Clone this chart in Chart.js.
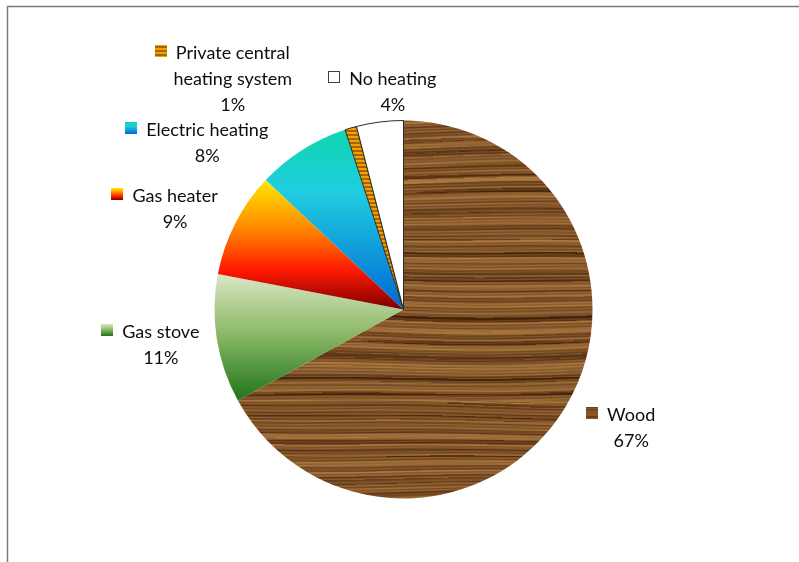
<!DOCTYPE html>
<html>
<head>
<meta charset="utf-8">
<script src="https://cdn.jsdelivr.net/npm/chart.js@4.4.1/dist/chart.umd.min.js"></script>
<style>
  html, body { margin: 0; padding: 0; background: #fff; }
  canvas { display: block; }
</style>
</head>
<body>
<canvas id="heating" width="799" height="562"></canvas>
<script>
const categories = ['Wood', 'Gas stove', 'Gas heater', 'Electric heating', 'Private central heating system', 'No heating'];
const shares = [67, 11, 9, 8, 1, 4];

// vertical gradients (top -> bottom) for the plain slices; null = special fill
const sliceStops = [
  null,
  [[0, '#dbe6c6'], [0.45, '#8fbb6a'], [1, '#1f7419']],
  [[0, '#ffe600'], [0.35, '#ff9000'], [0.7, '#ff1800'], [1, '#7a0000']],
  [[0, '#0fd6ae'], [0.35, '#20cde0'], [1, '#0068d4']],
  null,
  null,
];

// label placement, relative to the middle of each slice's outer edge
const labelOffsets = [[65, 15], [-56, -1], [-60, -22], [-95, -14], [-118, -69], [13, -37]];
const LINE_H = 26;

let woodCache = null;
function woodPattern(ctx) {
  if (woodCache) return woodCache;
  const W = 800, H = 400;
  const c = document.createElement('canvas');
  c.width = W; c.height = H;
  const g = c.getContext('2d');
  const img = g.createImageData(W, H);
  const dark = [70, 34, 10], light = [190, 136, 74];
  for (let y = 0; y < H; y++) {
    for (let x = 0; x < W; x++) {
      const warp = 2.4 * Math.sin(x * 0.0079 + y * 0.021) + 1.4 * Math.sin(x * 0.019 - y * 0.013);
      const yy = y + warp;
      let t = 0.52 + 0.11 * Math.sin(yy * 1.93)
        + 0.12 * Math.sin(yy * 0.73 + 1.0)
        + 0.1 * Math.sin((y + warp * 1.5) * 0.31 + 2.0)
        + 0.05 * Math.sin(x * 0.05 + y * 2.3);
      if (Math.sin(yy * 0.41 + 0.8) * Math.sin(y * 0.093 + 0.4) > 0.55) t -= 0.28;
      if (Math.sin(yy * 0.17 + 2.1) > 0.93) t += 0.15;
      t = Math.max(0, Math.min(1, t));
      const p = (y * W + x) * 4;
      img.data[p] = dark[0] + (light[0] - dark[0]) * t;
      img.data[p + 1] = dark[1] + (light[1] - dark[1]) * t;
      img.data[p + 2] = dark[2] + (light[2] - dark[2]) * t;
      img.data[p + 3] = 255;
    }
  }
  g.putImageData(img, 0, 0);
  woodCache = ctx.createPattern(c, 'repeat');
  return woodCache;
}

let stripeCache = null;
function stripePattern(ctx) {
  if (stripeCache) return stripeCache;
  const c = document.createElement('canvas');
  c.width = 4; c.height = 4;
  const g = c.getContext('2d');
  g.fillStyle = '#f0a200'; g.fillRect(0, 0, 4, 2);
  g.fillStyle = '#a86400'; g.fillRect(0, 2, 4, 2);
  stripeCache = ctx.createPattern(c, 'repeat');
  return stripeCache;
}

function arcYRange(el) {
  const { x, y, startAngle, endAngle, outerRadius: r } = el;
  const ys = [y, y + Math.sin(startAngle) * r, y + Math.sin(endAngle) * r];
  for (let a = -Math.PI / 2; a <= 2.5 * Math.PI; a += Math.PI) {
    if (a > startAngle && a < endAngle) ys.push(y + Math.sin(a) * r);
  }
  return [Math.min(...ys), Math.max(...ys)];
}

function gradientFill(ctx, i, y0, y1) {
  const g = ctx.createLinearGradient(0, y0, 0, y1);
  sliceStops[i].forEach(([o, c]) => g.addColorStop(o, c));
  return g;
}

function sliceFill(chart, i) {
  if (i === 0) return woodPattern(chart.ctx);
  if (i === 4) return stripePattern(chart.ctx);
  if (i === 5) return '#ffffff';
  const el = chart.getDatasetMeta(0).data[i];
  if (!el || !el.outerRadius) return sliceStops[i][1][1];
  const [y0, y1] = arcYRange(el);
  return gradientFill(chart.ctx, i, y0, y1);
}

function wrapName(name) {
  const words = name.split(' ');
  if (words.length <= 3) return [name];
  const half = Math.ceil(words.length / 2);
  return [words.slice(0, half).join(' '), words.slice(half).join(' ')];
}

function drawKey(ctx, i, x, y, s) {
  if (sliceStops[i]) ctx.fillStyle = gradientFill(ctx, i, y, y + s);
  else if (i === 0) ctx.fillStyle = woodPattern(ctx);
  else if (i === 4) ctx.fillStyle = stripePattern(ctx);
  else ctx.fillStyle = '#ffffff';
  ctx.fillRect(x, y, s, s);
  if (i === 5) {
    ctx.strokeStyle = '#404040';
    ctx.lineWidth = 1;
    ctx.strokeRect(x + 0.5, y + 0.5, s - 1, s - 1);
  }
}

const framePlugin = {
  id: 'frame',
  beforeDraw(chart) {
    const ctx = chart.ctx;
    ctx.save();
    ctx.strokeStyle = '#7a7a7a';
    ctx.lineWidth = 1.5;
    ctx.beginPath();
    ctx.moveTo(7.5, chart.height);
    ctx.lineTo(7.5, 6.5);
    ctx.lineTo(chart.width, 6.5);
    ctx.stroke();
    ctx.restore();
  },
};

const labelPlugin = {
  id: 'outsideLabels',
  afterDatasetsDraw(chart) {
    const ctx = chart.ctx;
    const total = shares.reduce((a, b) => a + b, 0);
    chart.getDatasetMeta(0).data.forEach((el, i) => {
      const mid = (el.startAngle + el.endAngle) / 2;
      const cx = el.x + Math.cos(mid) * el.outerRadius + labelOffsets[i][0];
      const base = el.y + Math.sin(mid) * el.outerRadius + labelOffsets[i][1];
      const lines = wrapName(categories[i]).concat(Math.round(shares[i] / total * 100) + '%');
      ctx.save();
      ctx.font = '18px Lato';
      ctx.fillStyle = '#0d0d0d';
      ctx.textAlign = 'center';
      ctx.textBaseline = 'alphabetic';
      lines.forEach((t, k) => ctx.fillText(t, cx, base + k * LINE_H));
      const w = ctx.measureText(lines[0]).width;
      drawKey(ctx, i, Math.round(cx - w / 2 - 9 - 12), Math.round(base - 14), 12);
      ctx.restore();
    });
  },
};

const chart = new Chart(document.getElementById('heating'), {
  type: 'pie',
  data: {
    labels: categories,
    datasets: [{
      data: shares,
      backgroundColor: (c) => sliceFill(c.chart, c.dataIndex),
      borderColor: '#2b2b2b',
      borderWidth: [0, 0, 0, 0, 1, 1],
    }],
  },
  options: {
    responsive: false,
    devicePixelRatio: 1,
    animation: false,
    layout: { padding: { top: 120, bottom: 63, left: 214, right: 206 } },
    plugins: {
      legend: { display: false },
      tooltip: { enabled: false },
    },
  },
  plugins: [framePlugin, labelPlugin],
});
chart.update();
</script>
</body>
</html>
